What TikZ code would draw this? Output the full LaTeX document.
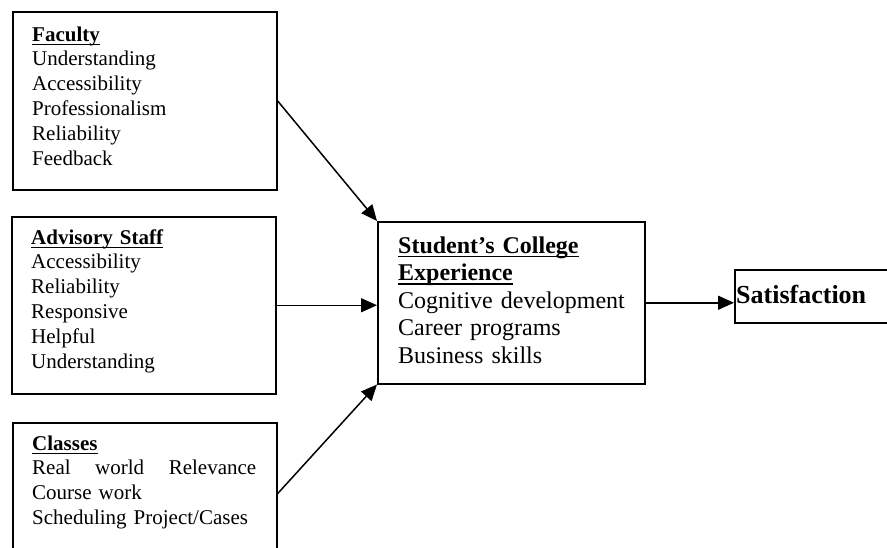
\documentclass[tikz,border=0pt]{standalone}
\usepackage{fontspec}
\setmainfont{Liberation Serif}
\usetikzlibrary{positioning,arrows.meta}

\tikzset{
  box/.style={draw, line width=1.5pt, anchor=north west, inner sep=0pt},
  lbl/.style={anchor=base west, inner sep=0pt, text width=250pt, align=left,
    font=\fontsize{21}{24.8}\selectfont},
  big/.style={lbl, font=\fontsize{24}{27.5}\selectfont},
  link/.style={line width=1.5pt, -{Triangle[length=16pt,width=14pt]}},
}
\newlength{\hdw}
\newcommand{\hd}[1]{\settowidth{\hdw}{\textbf{#1}}\textbf{#1}\hspace{-\hdw}\rule[-4.2pt]{\hdw}{1.6pt}}

\begin{document}
\begin{tikzpicture}[x=1pt,y=-1pt]
\useasboundingbox (0,0) rectangle (887,547);
\clip (0,0) rectangle (887,547);

% the three boxes on the left
\node[box, minimum width=264pt, minimum height=178pt] (fac) at (12,11) {};
\node[box, minimum width=264pt, minimum height=177pt] (adv) at (11,216) {};
\node[box, minimum width=264pt, minimum height=142pt] (cls) at (12,422) {};

% middle and right
\node[box, minimum width=267pt, minimum height=162pt] (stu) at (377,221) {};
\node[box, minimum width=170pt, minimum height=53pt] (sat) at (734,269) {};

% texts
\node[lbl] (factxt) at ([shift={(20,30)}]fac.north west)
  {\hd{Faculty}\\Understanding\\Accessibility\\Professionalism\\Reliability\\Feedback};
\node[lbl] (advtxt) at ([shift={(20,28)}]adv.north west)
  {\hd{Advisory Staff}\\Accessibility\\Reliability\\Responsive\\Helpful\\Understanding};
\node[lbl] (clstxt) at ([shift={(20,28)}]cls.north west)
  {\hd{Classes}\\\makebox[224pt][l]{Real\hfill world\hfill Relevance}\\Course work\\Scheduling Project/Cases};
\node[big] (stutxt) at ([shift={(21,32)}]stu.north west)
  {\hd{Student’s College}\\\hd{Experience}\\Cognitive development\\Career programs\\Business skills};
\node[lbl, font=\fontsize{26}{30}\selectfont\bfseries] (sattxt) at ([shift={(2,34)}]sat.north west)
  {Satisfaction};

% arrows
\draw[link] (fac.east) -- (stu.north west);
\draw[link] (adv.east) -- (stu.west |- adv.east);
\draw[link] (cls.east) -- (stu.south west);
\draw[link] (stu.east) -- (sat.west |- stu.east);

\end{tikzpicture}
\end{document}
